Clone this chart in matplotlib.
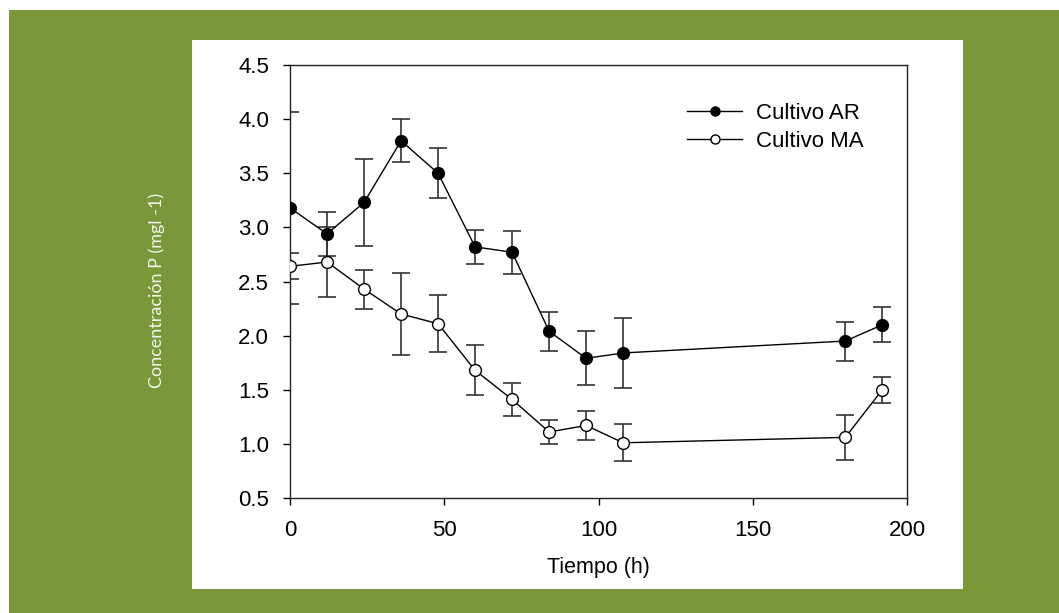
import matplotlib
matplotlib.use("Agg")
import matplotlib.pyplot as plt
from matplotlib.patches import Rectangle
from matplotlib.lines import Line2D
import numpy as np

plt.rcParams["font.family"] = ["Liberation Sans", "DejaVu Sans"]

# tiempo (h)
t = [0, 12, 24, 36, 48, 60, 72, 84, 96, 108, 180, 192]
# Cultivo AR
ar = [3.18, 2.94, 3.23, 3.80, 3.50, 2.82, 2.77, 2.04, 1.79, 1.84, 1.95, 2.10]
ar_err = [0.89, 0.20, 0.40, 0.20, 0.23, 0.16, 0.20, 0.18, 0.25, 0.32, 0.18, 0.16]
# Cultivo MA
ma = [2.64, 2.68, 2.43, 2.20, 2.11, 1.68, 1.41, 1.11, 1.17, 1.01, 1.06, 1.50]
ma_err = [0.12, 0.32, 0.18, 0.38, 0.265, 0.23, 0.15, 0.11, 0.13, 0.17, 0.21, 0.12]

W, H = 1059, 613
fig = plt.figure(figsize=(W / 100, H / 100), dpi=100)
green = '#7a9739'
fig.patches.append(Rectangle((9 / W, 0), 1050 / W, 603 / H, transform=fig.transFigure,
                             facecolor=green, edgecolor='none', zorder=0))
fig.patches.append(Rectangle((192 / W, (H - 589) / H), 771 / W, 549 / H, transform=fig.transFigure,
                             facecolor='white', edgecolor='none', zorder=1))

ax = fig.add_axes([290 / W, (H - 498) / H, 617 / W, 433 / H])
ax.set_zorder(2)

ecol = '#333333'
ax.errorbar(t, ar, yerr=ar_err, fmt='none', ecolor=ecol, elinewidth=1.2, capsize=6.5, capthick=1.2, zorder=2)
ax.errorbar(t, ma, yerr=ma_err, fmt='none', ecolor=ecol, elinewidth=1.2, capsize=6.5, capthick=1.2, zorder=2)
ax.plot(t, ar, '-o', color='black', lw=1, markersize=8.5, markerfacecolor='black',
        markeredgecolor='black', zorder=3)
ax.plot(t, ma, '-o', color='black', lw=1, markersize=8.5, markerfacecolor='white',
        markeredgecolor='black', markeredgewidth=1, zorder=3)

ax.set_xlim(0, 200)
ax.set_ylim(0.5, 4.5)
ax.set_xticks([0, 50, 100, 150, 200])
ax.set_yticks([0.5, 1.0, 1.5, 2.0, 2.5, 3.0, 3.5, 4.0, 4.5])
ax.set_yticklabels(['%.1f' % v for v in ax.get_yticks()])
ax.tick_params(direction='out', length=5, width=1, labelsize=16, top=False, right=False)
ax.tick_params(axis='x', pad=11)
ax.tick_params(axis='y', pad=10)
for s in ax.spines.values():
    s.set_linewidth(1)
    s.set_color('#222222')

ax.set_xlabel('Tiempo (h)', fontsize=15.5, labelpad=11)

fig.text(157 / W, (H - 290) / H, 'Concentración P (mgl -1)', rotation=90, ha='center', va='center',
         fontsize=13, color='#f4f6ec', family=['Lato', 'DejaVu Sans'])

handles = [Line2D([], [], color='black', lw=1, marker='o', markersize=6.5, markerfacecolor='black'),
           Line2D([], [], color='black', lw=1, marker='o', markersize=6.5, markerfacecolor='white')]
ax.legend(handles, ['Cultivo AR', 'Cultivo MA'], loc='upper left', bbox_to_anchor=(0.643, 0.912),
          frameon=False, fontsize=16, handlelength=2.5, handletextpad=0.6, labelspacing=0.3,
          borderpad=0, borderaxespad=0)

fig.savefig('out.png', dpi=100, facecolor='white')
